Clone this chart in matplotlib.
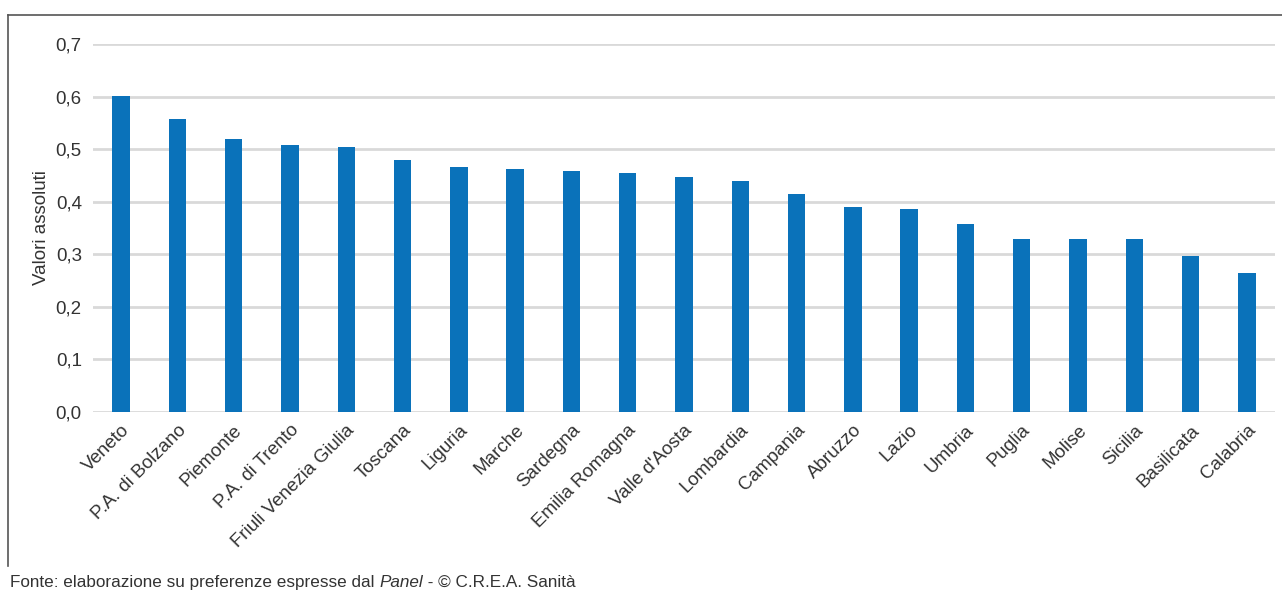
import matplotlib
matplotlib.use("Agg")
import matplotlib.pyplot as plt
from matplotlib.lines import Line2D

regioni = ["Veneto", "P.A. di Bolzano", "Piemonte", "P.A. di Trento", "Friuli Venezia Giulia",
           "Toscana", "Liguria", "Marche", "Sardegna", "Emilia Romagna", "Valle d'Aosta",
           "Lombardia", "Campania", "Abruzzo", "Lazio", "Umbria", "Puglia", "Molise",
           "Sicilia", "Basilicata", "Calabria"]
valori = [0.601, 0.557, 0.519, 0.508, 0.504, 0.479, 0.466, 0.462, 0.458, 0.455, 0.447,
          0.439, 0.415, 0.390, 0.386, 0.358, 0.329, 0.329, 0.329, 0.297, 0.264]
yticks = [0.0, 0.1, 0.2, 0.3, 0.4, 0.5, 0.6, 0.7]

plt.rcParams['font.family'] = ['Liberation Sans', 'DejaVu Sans']
grigio = "#333333"

fig = plt.figure(figsize=(12.82, 5.95), dpi=100)
ax = fig.add_axes([0.0725, 0.3076, 0.922, 0.6184])

x = range(len(regioni))
ax.bar(x, valori, width=0.31, color="#0a72ba", zorder=3)

ax.set_ylim(0, 0.7)
ax.set_xlim(-0.5, len(regioni) - 0.5)
ax.set_yticks(yticks)
ax.set_yticklabels([("%.1f" % v).replace(".", ",") for v in yticks], fontsize=13.5, color=grigio)
ax.set_xticks(list(x))
ax.set_xticklabels(regioni, rotation=45, ha="right", rotation_mode="anchor", fontsize=13.5, color=grigio)
ax.tick_params(axis="y", length=0, pad=8)
ax.tick_params(axis="x", length=0, pad=7)
ax.yaxis.grid(True, color="#d9d9d9", linewidth=2, zorder=0)
for s in ax.spines.values():
    s.set_visible(False)
ax.set_ylabel("Valori assoluti", fontsize=13.5, color=grigio, labelpad=4)

# cornice
fig.add_artist(Line2D([8 / 1282, 1], [1 - 15 / 595, 1 - 15 / 595], color="#555555", linewidth=1.2))
fig.add_artist(Line2D([8 / 1282, 8 / 1282], [1 - 15 / 595, 1 - 566 / 595], color="#555555", linewidth=1.2))

# fonte con Panel in corsivo, tutto sulla stessa linea di base
fig.canvas.draw()
r = fig.canvas.get_renderer()
ypos = 1 - 587 / 595
t1 = fig.text(10 / 1282, ypos, "Fonte: elaborazione su preferenze espresse dal ", fontsize=12.3,
              color=grigio, va="baseline")
w1 = t1.get_window_extent(r).x1
t2 = fig.text(w1 / 1282, ypos, "Panel", fontsize=12.3, style="italic", color=grigio, va="baseline")
w2 = t2.get_window_extent(r).x1
fig.text(w2 / 1282, ypos, " - © C.R.E.A. Sanità", fontsize=12.3, color=grigio, va="baseline")

fig.savefig("out.png", dpi=100)
